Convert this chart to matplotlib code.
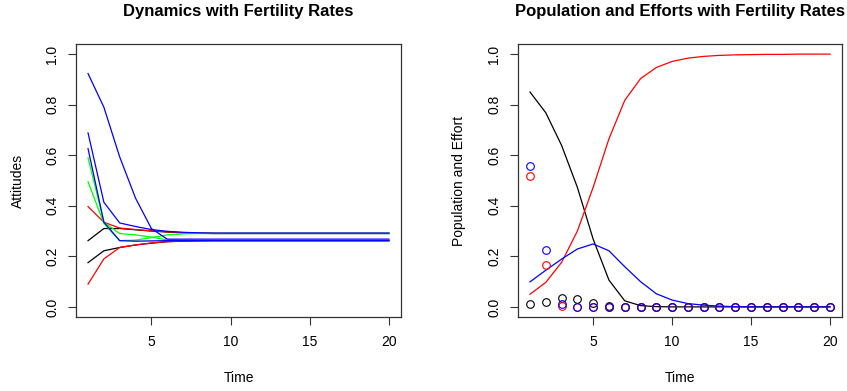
import matplotlib
matplotlib.use("Agg")
import matplotlib.pyplot as plt

plt.rcParams['font.family'] = ['Liberation Sans', 'DejaVu Sans']

time = list(range(1, 21))

# Left panel: attitudes (9 trajectories)
att_black1 = [0.262, 0.310, 0.310, 0.305, 0.300, 0.296, 0.293, 0.291, 0.290, 0.290,
              0.290, 0.290, 0.290, 0.290, 0.290, 0.290, 0.290, 0.290, 0.290, 0.290]
att_black2 = [0.175, 0.222, 0.235, 0.245, 0.252, 0.258, 0.260, 0.261, 0.262, 0.262,
              0.262, 0.262, 0.262, 0.262, 0.262, 0.262, 0.262, 0.262, 0.262, 0.262]
att_red1 = [0.397, 0.335, 0.312, 0.306, 0.301, 0.297, 0.294, 0.292, 0.291, 0.291,
            0.291, 0.291, 0.291, 0.291, 0.291, 0.291, 0.291, 0.291, 0.291, 0.291]
att_red2 = [0.090, 0.190, 0.235, 0.245, 0.253, 0.258, 0.260, 0.261, 0.262, 0.262,
            0.262, 0.262, 0.262, 0.262, 0.262, 0.262, 0.262, 0.262, 0.262, 0.262]
att_green1 = [0.590, 0.335, 0.290, 0.285, 0.276, 0.265, 0.263, 0.262, 0.262, 0.262,
              0.262, 0.262, 0.262, 0.262, 0.262, 0.262, 0.262, 0.262, 0.262, 0.262]
att_green2 = [0.495, 0.330, 0.262, 0.264, 0.274, 0.285, 0.289, 0.290, 0.291, 0.291,
              0.291, 0.291, 0.291, 0.291, 0.291, 0.291, 0.291, 0.291, 0.291, 0.291]
att_blue1 = [0.923, 0.790, 0.593, 0.430, 0.310, 0.268, 0.268, 0.268, 0.268, 0.268,
             0.268, 0.268, 0.268, 0.268, 0.268, 0.268, 0.268, 0.268, 0.268, 0.268]
att_blue2 = [0.688, 0.414, 0.332, 0.318, 0.306, 0.299, 0.295, 0.293, 0.292, 0.292,
             0.292, 0.292, 0.292, 0.292, 0.292, 0.292, 0.292, 0.292, 0.292, 0.292]
att_blue3 = [0.626, 0.335, 0.262, 0.260, 0.261, 0.262, 0.262, 0.262, 0.262, 0.262,
             0.262, 0.262, 0.262, 0.262, 0.262, 0.262, 0.262, 0.262, 0.262, 0.262]

left_series = [
    (att_black1, 'black'), (att_black2, 'black'),
    (att_red1, 'red'), (att_red2, 'red'),
    (att_green1, '#00FF00'), (att_green2, '#00FF00'),
    (att_blue1, 'blue'), (att_blue2, 'blue'), (att_blue3, 'blue'),
]

# Right panel: population lines and effort points
pop_black = [0.850, 0.768, 0.639, 0.473, 0.268, 0.106, 0.024, 0.005, 0.001, 0.0,
             0.0, 0.0, 0.0, 0.0, 0.0, 0.0, 0.0, 0.0, 0.0, 0.0]
pop_red = [0.050, 0.097, 0.176, 0.300, 0.473, 0.665, 0.817, 0.903, 0.947, 0.971,
           0.984, 0.991, 0.995, 0.997, 0.998, 0.999, 0.999, 1.0, 1.0, 1.0]
pop_blue = [0.099, 0.145, 0.189, 0.229, 0.249, 0.222, 0.159, 0.100, 0.052, 0.027,
            0.013, 0.007, 0.003, 0.001, 0.0, 0.0, 0.0, 0.0, 0.0, 0.0]
eff_black = [0.013, 0.021, 0.034, 0.030, 0.016, 0.003, 0.0, 0.0, 0.0, 0.0,
             0.0, 0.0, 0.0, 0.0, 0.0, 0.0, 0.0, 0.0, 0.0, 0.0]
eff_red = [0.516, 0.165, 0.003, 0.0, 0.0, 0.0, 0.0, 0.0, 0.0, 0.0,
           0.0, 0.0, 0.0, 0.0, 0.0, 0.0, 0.0, 0.0, 0.0, 0.0]
eff_blue = [0.556, 0.225, 0.011, 0.001, 0.0, 0.0, 0.0, 0.0, 0.0, 0.0,
            0.0, 0.0, 0.0, 0.0, 0.0, 0.0, 0.0, 0.0, 0.0, 0.0]

xticks = [5, 10, 15, 20]
yticks = [0.0, 0.2, 0.4, 0.6, 0.8, 1.0]

W, H = 847, 391
fig = plt.figure(figsize=(W / 100, H / 100), dpi=100)
ax1 = fig.add_axes([76 / W, 1 - 317 / H, 325 / W, 273 / H])
ax2 = fig.add_axes([518 / W, 1 - 317 / H, 324 / W, 273 / H])


def style(ax, title, ylabel):
    ax.set_xlim(0.24, 20.76)
    ax.set_ylim(-0.04, 1.04)
    ax.set_xticks(xticks)
    ax.set_xticklabels([str(t) for t in xticks])
    ax.set_yticks(yticks)
    ax.set_yticklabels([f"{v:.1f}" for v in yticks], rotation=90, va='center')
    ax.tick_params(axis='both', direction='out', length=6, width=0.8,
                   labelsize=10, color='#333333')
    ax.tick_params(axis='x', pad=7)
    ax.tick_params(axis='y', pad=6)
    for sp in ax.spines.values():
        sp.set_linewidth(0.9)
        sp.set_color('#333333')
    ax.set_title(title, fontsize=12, fontweight='bold', pad=20)
    ax.set_xlabel('Time', fontsize=10, labelpad=16)
    ax.set_ylabel(ylabel, fontsize=10, labelpad=15)


for vals, col in left_series:
    ax1.plot(time, vals, color=col, lw=0.9)
style(ax1, 'Dynamics with Fertility Rates', 'Attitudes')

ax2.plot(time, pop_black, color='black', lw=0.9)
ax2.plot(time, pop_red, color='red', lw=0.9)
ax2.plot(time, pop_blue, color='blue', lw=0.9)
for vals, col in [(eff_black, 'black'), (eff_red, 'red'), (eff_blue, 'blue')]:
    ax2.plot(time, vals, linestyle='none', marker='o', markersize=5.5,
             markerfacecolor='none', markeredgecolor=col, markeredgewidth=0.8)
style(ax2, 'Population and Efforts with Fertility Rates', 'Population and Effort')

fig.savefig('out.png', dpi=100)
